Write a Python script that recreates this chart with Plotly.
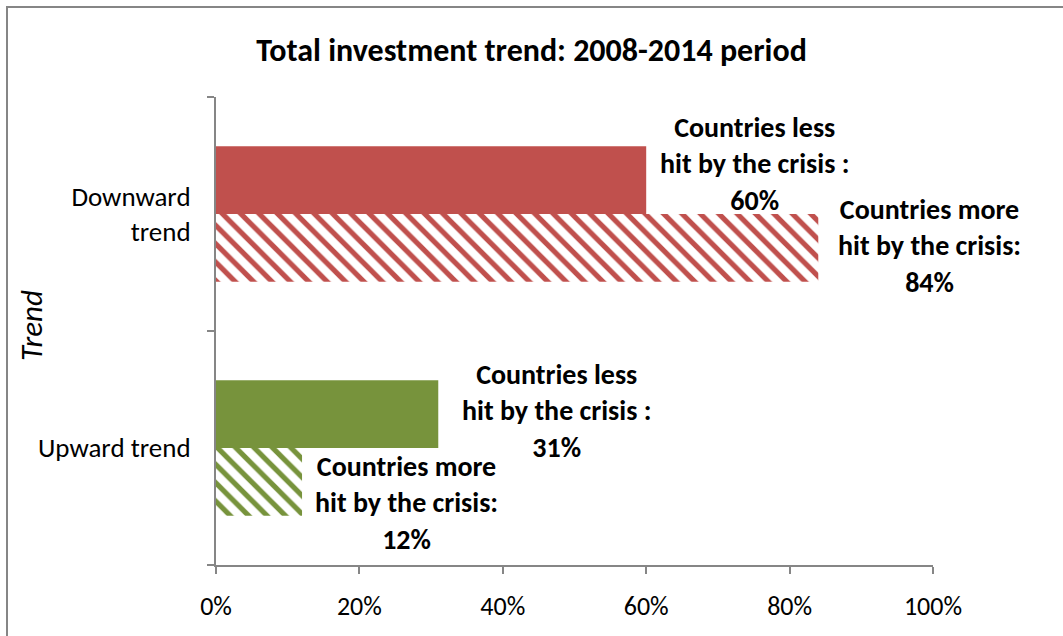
import plotly.graph_objects as go

categories = ["Upward trend", "Downward trend"]
tick_labels = ["Upward trend", "Downward<br>trend"]
less_hit = [0.31, 0.60]
more_hit = [0.12, 0.84]
bar_colors = ["#77933C", "#C0504D"]
x_ticks = [0, 0.2, 0.4, 0.6, 0.8, 1.0]

FONT = "Calibri, Carlito, Lato, sans-serif"

fig = go.Figure()
fig.add_trace(go.Bar(
    y=categories, x=more_hit, orientation="h", name="Countries more hit by the crisis",
    marker=dict(color=bar_colors, line=dict(width=0),
                pattern=dict(shape="\\", fgcolor=bar_colors, bgcolor="white",
                             size=13, solidity=0.4, fillmode="replace")),
    hoverinfo="skip"))
fig.add_trace(go.Bar(
    y=categories, x=less_hit, orientation="h", name="Countries less hit by the crisis",
    marker=dict(color=bar_colors, line=dict(width=0)),
    hoverinfo="skip"))

# labels (label offsets relative to the bar end / category centre, in px)
label_font = dict(family=FONT, size=28, color="black")
less_xshift = [118, 108]
less_yshift = [37, 50]
more_xshift = [104, 111]
more_yshift = [-55, -32]
for i, cat in enumerate(categories):
    fig.add_annotation(x=less_hit[i], y=cat, xref="x", yref="y",
                       text="<b>Countries less<br>hit by the crisis :<br>%d%%</b>" % round(less_hit[i] * 100),
                       showarrow=False, xanchor="center", yanchor="middle", align="center",
                       xshift=less_xshift[i], yshift=less_yshift[i], font=label_font)
    fig.add_annotation(x=more_hit[i], y=cat, xref="x", yref="y",
                       text="<b>Countries more<br>hit by the crisis:<br>%d%%</b>" % round(more_hit[i] * 100),
                       showarrow=False, xanchor="center", yanchor="middle", align="center",
                       xshift=more_xshift[i], yshift=more_yshift[i], font=label_font)

# y axis title
fig.add_annotation(x=(31 - 216) / 717, y=(565 - 326) / 468, xref="paper", yref="paper",
                   text="<i>Trend</i>", textangle=-90, showarrow=False,
                   xanchor="center", yanchor="middle",
                   font=dict(family=FONT, size=31, color="black"))

# outer border
fig.add_shape(type="rect", xref="paper", yref="paper",
              x0=(7 - 216) / 717, x1=2, y0=-1, y1=(565 - 7) / 468,
              line=dict(color="#868686", width=2), fillcolor="rgba(0,0,0,0)", layer="below")

fig.update_layout(
    width=1063, height=636,
    margin=dict(l=216, r=130, t=97, b=71),
    paper_bgcolor="white", plot_bgcolor="white",
    barmode="group", bargap=0.42, bargroupgap=0,
    showlegend=False,
    title=dict(text="<b>Total investment trend: 2008-2014 period</b>",
               x=0.5, xanchor="center", y=1 - 50 / 636, yanchor="middle",
               font=dict(family=FONT, size=32, color="black")),
    font=dict(family=FONT, size=26, color="black"),
    xaxis=dict(range=[0, 1], tickvals=x_ticks, tickformat=".0%",
               showgrid=False, zeroline=False, showline=True, linecolor="#868686", linewidth=2,
               ticks="outside", ticklen=7, tickcolor="#868686", tickwidth=2,
               tickfont=dict(family=FONT, size=26, color="black"), ticklabelstandoff=10),
    yaxis=dict(categoryorder="array", categoryarray=categories,
               tickvals=categories, ticktext=tick_labels, tickson="boundaries",
               showgrid=False, zeroline=False, showline=True, linecolor="#868686", linewidth=2,
               ticks="outside", ticklen=7, tickcolor="#868686", tickwidth=2,
               tickfont=dict(family=FONT, size=27, color="black"), ticklabelstandoff=18),
)

fig.write_html("out.html")
